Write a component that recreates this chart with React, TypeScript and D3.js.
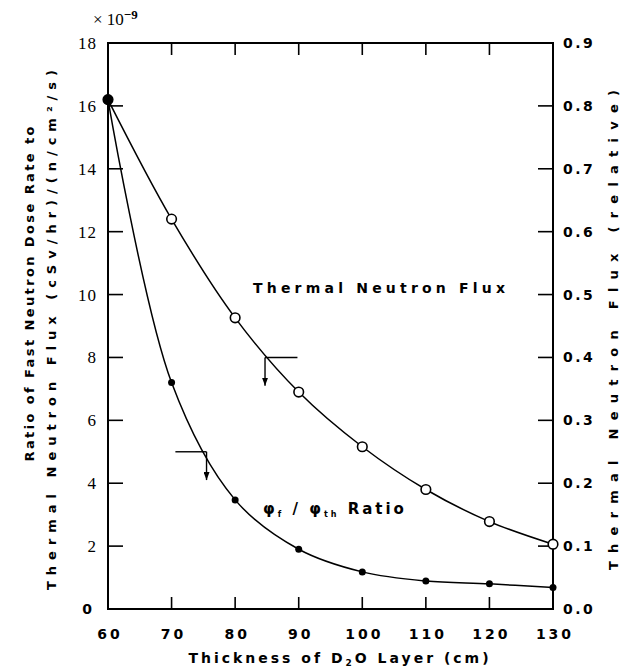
import React from "react";
import * as d3 from "d3";

const thickness = [60, 70, 80, 90, 100, 110, 120, 130];
const ratioValues = [16.2, 7.2, 3.47, 1.9, 1.18, 0.89, 0.8, 0.68];
const fluxValues = [0.81, 0.62, 0.463, 0.345, 0.258, 0.19, 0.139, 0.103];
const xTicks = [60, 70, 80, 90, 100, 110, 120, 130];
const leftTicks = [0, 2, 4, 6, 8, 10, 12, 14, 16, 18];
const rightTicks = [0, 0.1, 0.2, 0.3, 0.4, 0.5, 0.6, 0.7, 0.8, 0.9];

const W = 625;
const H = 670;
const sans = "'DejaVu Sans', sans-serif";
const serif = "'Liberation Serif', serif";

export default function App() {
  const x = d3.scaleLinear().domain([60, 130]).range([108, 553]);
  const yL = d3.scaleLinear().domain([0, 18]).range([609, 43]);
  const yR = d3.scaleLinear().domain([0, 0.9]).range([609, 43]);

  const ratioLine = d3
    .line<number>()
    .x((_, i) => x(thickness[i]))
    .y((d) => yL(d))
    .curve(d3.curveCatmullRom.alpha(0.5));
  const fluxLine = d3
    .line<number>()
    .x((_, i) => x(thickness[i]))
    .y((d) => yR(d))
    .curve(d3.curveCatmullRom.alpha(0.5));

  const [x0, x1] = x.range();
  const [yb, yt] = yL.range();

  // legend arrows (data units)
  const fa = { cx: 84.7, cy: 0.4, hx: 89.8, vy: 0.355 };
  const ra = { cx: 75.5, cy: 5.0, hx: 70.6, vy: 4.1 };

  return (
    <svg
      width={W}
      height={H}
      style={{ position: "absolute", left: 0, top: 0, background: "#fff" }}
    >
      <defs>
        <marker id="ah" viewBox="0 0 8 6" refX="8" refY="3" markerWidth="8" markerHeight="6" orient="auto" markerUnits="userSpaceOnUse">
          <path d="M0,0 L8,3 L0,6 Z" fill="#000" />
        </marker>
      </defs>
      <rect x={0} y={0} width={W} height={H} fill="#fff" />
      {/* frame */}
      <rect x={x0} y={yt} width={x1 - x0} height={yb - yt} fill="none" stroke="#000" strokeWidth={2} />
      {/* left ticks */}
      {leftTicks.map((t) => (
        <line key={"lt" + t} x1={x0} x2={x0 + 15} y1={yL(t)} y2={yL(t)} stroke="#000" strokeWidth={1.6} />
      ))}
      {/* right ticks */}
      {rightTicks.map((t) => (
        <line key={"rt" + t} x1={x1 - 15} x2={x1} y1={yR(t)} y2={yR(t)} stroke="#000" strokeWidth={1.6} />
      ))}
      {/* bottom & top ticks */}
      {xTicks.slice(1, -1).map((t) => (
        <g key={"xt" + t}>
          <line x1={x(t)} x2={x(t)} y1={yb} y2={yb - 12} stroke="#000" strokeWidth={1.6} />
          <line x1={x(t)} x2={x(t)} y1={yt} y2={yt + 12} stroke="#000" strokeWidth={1.6} />
        </g>
      ))}
      {/* left tick labels */}
      {leftTicks.map((t) =>
        t === 0 ? (
          <text key={"ll" + t} x={92} y={yL(t) + 5} textAnchor="end" fontFamily={sans} fontWeight="bold" fontSize={14}>
            0
          </text>
        ) : (
          <text key={"ll" + t} x={97} y={yL(t) + 6} textAnchor="end" fontFamily={serif} fontSize={17} letterSpacing={1}>
            {t}
          </text>
        )
      )}
      {/* right tick labels */}
      {rightTicks.map((t) => (
        <text key={"rl" + t} x={563} y={yR(t) + 5} fontFamily={sans} fontWeight="bold" fontSize={14} letterSpacing={2.5}>
          {t.toFixed(1)}
        </text>
      ))}
      {/* bottom tick labels */}
      {xTicks.map((t) => (
        <text key={"bl" + t} x={x(t) + 2} y={639} textAnchor="middle" fontFamily={sans} fontWeight="bold" fontSize={14} letterSpacing={3}>
          {t}
        </text>
      ))}
      {/* multiplier */}
      <text x={93} y={25} fontFamily={serif} fontSize={17}>
        × 10
        <tspan dy={-6} fontSize={13} fontWeight="bold">
          −9
        </tspan>
      </text>
      {/* axis titles */}
      <text
        transform={`translate(34,294) rotate(-90)`}
        textAnchor="middle"
        fontFamily={sans}
        fontWeight="bold"
        fontSize={13}
        textLength={335}
        lengthAdjust="spacing"
      >
        Ratio of Fast Neutron Dose Rate to
      </text>
      <text
        transform={`translate(56,330) rotate(-90)`}
        textAnchor="middle"
        fontFamily={sans}
        fontWeight="bold"
        fontSize={13}
        textLength={520}
        lengthAdjust="spacing"
      >
        Thermal Neutron Flux (cSv/hr)/(n/cm²/s)
      </text>
      <text
        transform={`translate(618,330) rotate(-90)`}
        textAnchor="middle"
        fontFamily={sans}
        fontWeight="bold"
        fontSize={13}
        textLength={480}
        lengthAdjust="spacing"
      >
        Thermal Neutron Flux (relative)
      </text>
      <text x={340} y={663} textAnchor="middle" fontFamily={sans} fontWeight="bold" fontSize={14} letterSpacing={3}>
        Thickness of D
        <tspan fontSize={9} dy={3}>2</tspan>
        <tspan dy={-3}>O Layer (cm)</tspan>
      </text>
      {/* curves */}
      <path d={fluxLine(fluxValues) || ""} fill="none" stroke="#000" strokeWidth={1.5} />
      <path d={ratioLine(ratioValues) || ""} fill="none" stroke="#000" strokeWidth={1.5} />
      {fluxValues.map((v, i) => (
        <circle key={"fc" + i} cx={x(thickness[i])} cy={yR(v)} r={4.8} fill="#fff" stroke="#000" strokeWidth={1.6} />
      ))}
      {ratioValues.map((v, i) => (
        <circle key={"rc" + i} cx={x(thickness[i])} cy={yL(v)} r={i === 0 ? 5 : 3.5} fill="#000" />
      ))}
      {/* curve labels */}
      <text x={253} y={293} fontFamily={sans} fontWeight="bold" fontSize={14} letterSpacing={4.2}>
        Thermal Neutron Flux
      </text>
      <text x={263} y={514} fontFamily={sans} fontWeight="bold" fontSize={15} letterSpacing={3}>
        φ<tspan fontSize={8} dy={3}>f</tspan>
        <tspan dy={-3}> / φ</tspan>
        <tspan fontSize={8} dy={3}>th</tspan>
        <tspan dy={-3}> Ratio</tspan>
      </text>
      {/* legend arrows */}
      <line x1={x(fa.cx)} y1={yR(fa.cy)} x2={x(fa.hx)} y2={yR(fa.cy)} stroke="#000" strokeWidth={1.4} />
      <line x1={x(fa.cx)} y1={yR(fa.cy)} x2={x(fa.cx)} y2={yR(fa.vy)} stroke="#000" strokeWidth={1.4} markerEnd="url(#ah)" />
      <line x1={x(ra.cx)} y1={yL(ra.cy)} x2={x(ra.hx)} y2={yL(ra.cy)} stroke="#000" strokeWidth={1.4} />
      <line x1={x(ra.cx)} y1={yL(ra.cy)} x2={x(ra.cx)} y2={yL(ra.vy)} stroke="#000" strokeWidth={1.4} markerEnd="url(#ah)" />
    </svg>
  );
}
